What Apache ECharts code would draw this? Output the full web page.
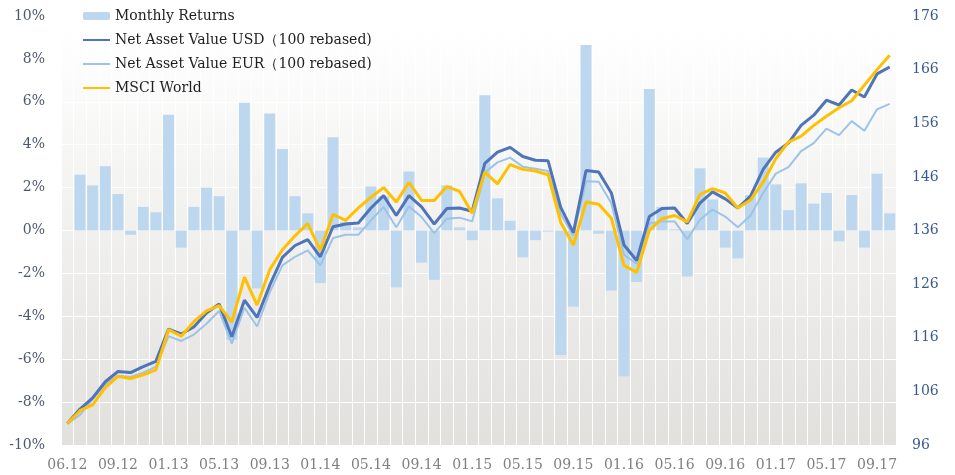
<!DOCTYPE html>
<html>
<head>
<meta charset="utf-8">
<script src="https://cdn.jsdelivr.net/npm/echarts@6/dist/echarts.min.js"></script>
<style>
html,body{margin:0;padding:0;background:#fff;}
#c{width:955px;height:475px;}
</style>
</head>
<body>
<div id="c"></div>
<script>
// Category labels (inception point + month ends)
const categories = ["06.12","06.12","07.12","08.12","09.12","10.12","11.12","12.12",
  "01.13","02.13","03.13","04.13","05.13","06.13","07.13","08.13","09.13","10.13","11.13","12.13",
  "01.14","02.14","03.14","04.14","05.14","06.14","07.14","08.14","09.14","10.14","11.14","12.14",
  "01.15","02.15","03.15","04.15","05.15","06.15","07.15","08.15","09.15","10.15","11.15","12.15",
  "01.16","02.16","03.16","04.16","05.16","06.16","07.16","08.16","09.16","10.16","11.16","12.16",
  "01.17","02.17","03.17","04.17","05.17","06.17","07.17","08.17","09.17","10.17"];

// Monthly returns (%), left axis
const monthlyReturns = [null,2.6,2.1,3.0,1.7,-0.2,1.1,0.85,5.4,-0.8,1.1,2.0,1.6,-5.1,5.95,-2.7,5.45,3.8,1.6,0.8,
  -2.45,4.35,0.4,0.15,2.05,1.6,-2.65,2.75,-1.5,-2.3,2.1,0.15,-0.45,6.3,1.5,0.45,-1.25,-0.45,-0.05,-5.8,
  -3.55,8.65,-0.15,-2.8,-6.8,-2.4,6.6,1.1,0.05,-2.15,2.9,1.45,-0.8,-1.3,1.65,3.4,2.15,0.95,2.2,1.25,
  1.75,-0.5,1.65,-0.8,2.65,0.8];

// Net asset values (100 rebased), right axis
const navUSD = [100,102.7,104.8,107.8,109.7,109.5,110.6,111.6,117.6,116.7,118.0,120.6,122.3,116.2,123.0,119.8,125.8,131.0,133.2,134.3,
  131.1,136.7,137.2,137.4,140.2,142.5,138.8,142.5,140.4,137.2,140.1,140.2,139.6,148.5,150.6,151.5,149.8,149.1,149.0,140.3,
  135.6,147.2,146.9,143.0,133.3,130.4,138.6,140.1,140.2,137.3,141.1,143.2,141.9,140.2,142.4,147.4,150.6,152.3,155.6,157.5,
  160.3,159.4,162.2,160.9,165.2,166.5];
const navEUR = [100,101.6,104.5,107.3,108.9,108.7,109.5,110.6,116.3,115.4,116.6,118.6,121.0,114.9,121.6,118.1,124.5,129.5,131.1,132.3,
  129.5,134.6,135.2,135.2,137.9,140.4,136.6,140.5,138.5,135.5,138.2,138.4,137.7,146.8,148.7,149.6,147.9,147.5,147.1,139.1,
  135.0,145.2,145.1,141.1,131.5,129.8,137.3,137.7,137.7,134.4,138.0,139.9,138.6,136.6,138.8,143.0,146.6,147.8,150.8,152.3,
  155.0,153.8,156.4,154.6,158.6,159.6];
const msciWorld = [100,102.4,103.5,106.7,108.8,108.4,109.1,110.0,117.5,116.3,119.0,121.0,122.0,118.9,127.3,122.1,128.7,132.4,135.0,137.3,
  132.3,139.0,137.9,140.2,142.2,144.0,141.3,145.0,141.6,141.6,144.2,143.3,139.2,146.9,144.7,148.3,147.4,147.1,146.4,137.5,
  133.3,141.3,140.9,138.3,129.5,128.2,136.0,138.2,138.8,137.6,142.7,143.8,143.0,140.2,141.7,145.0,149.4,152.5,153.6,155.6,
  157.3,158.9,160.2,163.1,166.0,168.7];

// Axis ranges
const leftMin = -10, leftMax = 10, leftStep = 2;
const rightMin = 96, rightMax = 176, rightStep = 10;

const FONT = "DejaVu Serif";
const off = v => v - rightMin; // right axis is counted from its minimum so ticks start at 96

const NAME_BAR = 'Monthly Returns';
const NAME_USD = 'Net Asset Value USD（100 rebased)';
const NAME_EUR = 'Net Asset Value EUR（100 rebased)';
const NAME_MSCI = 'MSCI World';

const chart = echarts.init(document.getElementById('c'), null, {renderer: 'canvas'});
chart.setOption({
  animation: false,
  backgroundColor: '#ffffff',
  grid: {
    left: 61, right: 59, top: 16, bottom: 30,
    show: true, borderWidth: 0,
    backgroundColor: new echarts.graphic.LinearGradient(0, 0, 0, 1, [
      {offset: 0, color: '#ffffff'},
      {offset: 0.07, color: '#fefefe'},
      {offset: 1, color: '#e1e0dd'}
    ])
  },
  legend: {
    orient: 'vertical', left: 82, top: 8, padding: 0,
    itemWidth: 27, itemHeight: 8, itemGap: 8,
    data: [
      {name: NAME_BAR},
      {name: NAME_USD, itemStyle: {opacity: 0}},
      {name: NAME_EUR, itemStyle: {opacity: 0}},
      {name: NAME_MSCI, itemStyle: {opacity: 0}}
    ],
    textStyle: {fontFamily: FONT, fontSize: 14, color: '#1e1e1e', lineHeight: 16}
  },
  xAxis: {
    type: 'category', data: categories, boundaryGap: true,
    axisLine: {show: false}, axisTick: {show: false, interval: 0},
    axisLabel: {interval: 3, margin: 13, fontFamily: FONT, fontSize: 14, color: '#808080'},
    splitLine: {show: true, interval: 0, lineStyle: {color: '#ffffff', width: 1}}
  },
  yAxis: [
    {
      type: 'value', min: leftMin, max: leftMax, interval: leftStep, position: 'left',
      axisLine: {show: false}, axisTick: {show: false},
      axisLabel: {formatter: '{value}%', margin: 16, fontFamily: FONT, fontSize: 14, color: '#4d586b'},
      splitLine: {show: true, lineStyle: {color: '#ffffff', width: 1}}
    },
    {
      type: 'value', min: 0, max: off(rightMax), interval: rightStep, position: 'right',
      axisLine: {show: false}, axisTick: {show: false},
      axisLabel: {formatter: v => String(v + rightMin), margin: 16, fontFamily: FONT, fontSize: 14, color: '#3a5b8a'},
      splitLine: {show: false}
    }
  ],
  series: [
    {
      name: NAME_BAR, type: 'bar', yAxisIndex: 0, data: monthlyReturns,
      barCategoryGap: '13%', itemStyle: {color: '#bdd7ee'}
    },
    {
      name: NAME_EUR, type: 'line', yAxisIndex: 1, data: navEUR.map(off),
      symbol: 'none', lineStyle: {color: '#9dc3e6', width: 2}, itemStyle: {color: '#9dc3e6'}
    },
    {
      name: NAME_USD, type: 'line', yAxisIndex: 1, data: navUSD.map(off),
      symbol: 'none', lineStyle: {color: '#4f74b9', width: 3}, itemStyle: {color: '#4f74b9'}
    },
    {
      name: NAME_MSCI, type: 'line', yAxisIndex: 1, data: msciWorld.map(off),
      symbol: 'none', lineStyle: {color: '#ffc000', width: 3}, itemStyle: {color: '#ffc000'}
    }
  ]
});
</script>
</body>
</html>
